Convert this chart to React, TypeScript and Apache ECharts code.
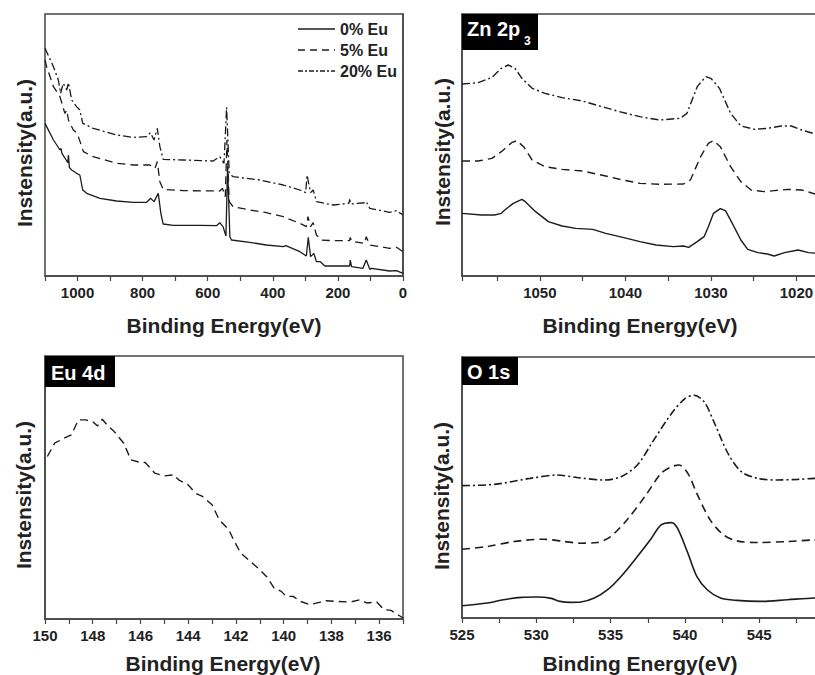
import React, { useEffect, useRef } from "react";
import * as echarts from "echarts";

const FONT = '"Liberation Sans", Arial, Helvetica, sans-serif';
const INK = "#1c1c1c";
const AXIS = "#444";

// Panel labels / texts
const legendNames = ["0% Eu", "5% Eu", "20% Eu"];
const xAxisTitle = "Binding Energy(eV)";
const yAxisTitle = "Instensity(a.u.)";

// ---- Survey spectrum (x: binding energy eV, y: a.u.) ----
const survey0: [number, number][] = [
  [1100, 458], [1074, 408], [1054, 378], [1051, 383], [1048, 368], [1033, 345], [1030, 340], [1028, 363],
  [1025, 325], [1018, 318], [1003, 308], [993, 303], [984, 258], [972, 248], [931, 233], [880, 225],
  [829, 221], [788, 221], [775, 233], [765, 223], [752, 248], [744, 188], [737, 156], [706, 152],
  [624, 152], [573, 151], [563, 160], [553, 148], [544, 120], [539, 328], [532, 118], [527, 108],
  [471, 101], [420, 93], [368, 88], [360, 91], [317, 73], [297, 60], [291, 116], [284, 58],
  [274, 68], [266, 43], [254, 43], [240, 30], [164, 30], [162, 48], [158, 28], [123, 23],
  [113, 48], [102, 20], [97, 23], [41, 15], [20, 16], [0, 8],
];
const survey5: [number, number][] = [
  [1100, 648], [1095, 628], [1074, 568], [1054, 538], [1039, 488], [1033, 498], [1030, 480], [1028, 468],
  [1013, 438], [1001, 428], [987, 388], [982, 373], [952, 358], [880, 338], [829, 333], [778, 333],
  [762, 323], [755, 343], [747, 283], [737, 260], [675, 256], [563, 255], [555, 263], [546, 238],
  [541, 408], [534, 223], [522, 208], [471, 198], [420, 190], [368, 178], [317, 158], [297, 148],
  [292, 178], [284, 148], [276, 160], [266, 123], [251, 108], [215, 106], [164, 106], [162, 116],
  [158, 104], [118, 98], [113, 118], [102, 93], [41, 83], [20, 86], [0, 73],
];
const survey20: [number, number][] = [
  [1100, 683], [1074, 628], [1059, 588], [1052, 548], [1044, 578], [1033, 558], [1028, 580], [1018, 528],
  [1003, 508], [993, 498], [984, 458], [952, 443], [880, 423], [829, 416], [788, 418], [776, 430],
  [765, 408], [755, 443], [747, 388], [737, 350], [675, 348], [583, 345], [563, 358], [550, 338],
  [542, 506], [534, 308], [522, 298], [440, 288], [368, 273], [317, 258], [299, 250], [295, 303],
  [284, 250], [276, 258], [266, 223], [215, 213], [166, 218], [164, 230], [160, 216], [115, 220],
  [113, 223], [102, 203], [41, 191], [20, 196], [0, 183],
];

// ---- Zn 2p3 ----
const zn0: [number, number][] = [
  [1059.1, 188], [1056.8, 183], [1055.3, 183], [1054.5, 188], [1054.1, 198], [1053.1, 218], [1052.1, 230],
  [1051.7, 223], [1050.5, 193], [1049.0, 163], [1047.4, 150], [1045.8, 143], [1043.8, 140], [1042.3, 128],
  [1040.3, 116], [1038.3, 103], [1036.4, 93], [1034.4, 88], [1033.2, 90], [1032.6, 86], [1031.6, 103],
  [1030.8, 118], [1030.3, 148], [1029.7, 188], [1028.9, 202], [1028.3, 196], [1027.5, 158], [1026.5, 108],
  [1025.7, 80], [1024.5, 70], [1023.4, 66], [1022.6, 60], [1021.4, 70], [1019.8, 78], [1018.6, 70],
  [1017.4, 68], [1016, 70],
];
const zn5: [number, number][] = [
  [1059.1, 345], [1057.2, 345], [1055.6, 353], [1054.5, 373], [1053.3, 400], [1052.7, 406], [1051.9, 388],
  [1050.9, 348], [1049.4, 328], [1047.4, 320], [1045.0, 315], [1042.3, 300], [1040.3, 288], [1038.3, 278],
  [1036.0, 275], [1033.2, 276], [1032.4, 288], [1031.2, 358], [1030.3, 398], [1029.7, 406], [1028.9, 388],
  [1027.7, 328], [1026.5, 283], [1025.3, 258], [1023.8, 253], [1022.6, 256], [1021.0, 260], [1019.4, 258],
  [1017.4, 243], [1016, 238],
];
const zn20: [number, number][] = [
  [1059.1, 576], [1057.2, 580], [1055.6, 596], [1054.5, 623], [1053.7, 633], [1052.9, 623], [1052.1, 593],
  [1050.9, 563], [1049.4, 548], [1047.4, 535], [1045.0, 525], [1043.0, 510], [1040.7, 493], [1038.3, 478],
  [1036.0, 468], [1033.6, 473], [1032.8, 488], [1031.6, 568], [1030.6, 598], [1030.0, 593], [1029.0, 563],
  [1027.7, 488], [1026.5, 450], [1024.9, 440], [1023.4, 443], [1021.8, 450], [1020.6, 450], [1019.4, 438],
  [1017.4, 423], [1016, 420],
];

// ---- Eu 4d (5% Eu only) ----
const eu5: [number, number][] = [
  [149.9, 488], [149.6, 528], [149.2, 543], [148.9, 553], [148.6, 598], [148.3, 598], [148.0, 593],
  [147.8, 580], [147.6, 600], [147.4, 583], [147.1, 563], [146.7, 528], [146.4, 478], [146.0, 470],
  [145.8, 470], [145.4, 438], [145.0, 430], [144.6, 433], [144.4, 418], [144.0, 403], [143.7, 378],
  [143.4, 368], [143.0, 343], [142.7, 298], [142.3, 268], [142.1, 238], [141.8, 198], [141.4, 173],
  [141.0, 148], [140.7, 126], [140.4, 93], [140.1, 83], [139.9, 68], [139.6, 68], [139.3, 53],
  [138.9, 43], [138.5, 50], [138.2, 55], [137.8, 53], [137.2, 51], [136.8, 58], [136.5, 48],
  [136.1, 51], [135.8, 28], [135.5, 26], [135.0, 3],
];

// ---- O 1s ----
const o0: [number, number][] = [
  [525.0, 37], [526.7, 45], [527.8, 55], [529.0, 62], [530.1, 63], [531.0, 59], [531.6, 50], [532.3, 47],
  [533.0, 48], [533.9, 60], [534.8, 85], [535.7, 125], [536.8, 185], [537.7, 237], [538.4, 280],
  [539.1, 287], [539.5, 270], [540.2, 195], [540.8, 125], [541.5, 85], [542.4, 60], [543.5, 53],
  [545.1, 50], [546.9, 55], [548.7, 60], [550, 62],
];
const o5: [number, number][] = [
  [525.0, 207], [526.7, 215], [528.5, 230], [530.5, 237], [531.9, 230], [533.0, 225], [534.1, 227],
  [535.0, 245], [536.1, 295], [537.3, 365], [538.4, 435], [539.1, 455], [539.6, 460], [540.2, 435],
  [540.8, 375], [541.7, 295], [542.6, 250], [543.5, 232], [544.9, 227], [546.9, 230], [548.7, 235],
  [550, 236],
];
const o20: [number, number][] = [
  [525.0, 398], [527.2, 402], [529.6, 420], [531.4, 430], [532.8, 422], [534.6, 415], [535.7, 425],
  [536.8, 460], [537.9, 535], [539.1, 615], [540.0, 660], [540.6, 670], [541.3, 650], [542.0, 585],
  [542.9, 495], [543.8, 440], [544.9, 420], [546.2, 415], [547.6, 417], [548.7, 420], [550, 421],
];

const DASH = [8, 5];
const DASHDOT = [8, 3, 2, 3];

function App() {
  const ref = useRef<HTMLDivElement>(null);

  useEffect(() => {
    if (!ref.current) return;
    const chart = echarts.init(ref.current, null, { renderer: "svg" });

    // labels shown every `step`, hidden beyond `visibleLimit` (outside the cropped figure)
    const fmt = (step: number, hide: (v: number) => boolean) => (v: number) => {
      if (hide(v)) return "";
      const r = v / step;
      return Math.abs(r - Math.round(r)) < 1e-6 ? String(Math.round(v * 10) / 10) : "";
    };

    const xBase = (
      idx: number,
      min: number,
      max: number,
      interval: number,
      labelStep: number,
      inverse: boolean,
      hide: (v: number) => boolean = () => false
    ) => ({
      type: "value",
      gridIndex: idx,
      min,
      max,
      interval,
      inverse,
      axisLine: { show: true, lineStyle: { color: AXIS, width: 1.5 } },
      axisTick: { show: true, inside: false, length: 5, lineStyle: { color: AXIS, width: 1.2 } },
      axisLabel: {
        formatter: fmt(labelStep, hide),
        fontSize: 15,
        fontWeight: "bold",
        color: "#222",
        fontFamily: FONT,
        margin: 9,
        showMinLabel: true,
        showMaxLabel: true,
      },
      splitLine: { show: false },
    });

    const yBase = (idx: number, max: number) => ({
      type: "value",
      gridIndex: idx,
      min: 0,
      max,
      axisLine: { show: true, lineStyle: { color: AXIS, width: 1.5 } },
      axisTick: { show: false },
      axisLabel: { show: false },
      splitLine: { show: false },
    });

    const line = (name: string, data: [number, number][], idx: number, type: any, width = 1.4, smooth: any = false) => ({
      type: "line",
      name,
      xAxisIndex: idx,
      yAxisIndex: idx,
      data,
      showSymbol: false,
      symbol: "none",
      smooth,
      clip: true,
      lineStyle: { color: INK, width, type },
      emphasis: { disabled: true },
    });

    const gridStyle = { show: true, borderColor: AXIS, borderWidth: 1.5, backgroundColor: "transparent" };

    const axisName = (x: number, y: number) => ({
      type: "text",
      x,
      y,
      style: {
        text: xAxisTitle,
        fontSize: 21,
        fontWeight: "bold",
        fontFamily: FONT,
        fill: "#222",
        align: "center",
        verticalAlign: "middle",
      },
    });
    const yName = (x: number, y: number) => ({
      type: "text",
      x,
      y,
      rotation: Math.PI / 2,
      style: {
        text: yAxisTitle,
        fontSize: 21,
        fontWeight: "bold",
        fontFamily: FONT,
        fill: "#222",
        align: "center",
        verticalAlign: "middle",
      },
    });
    const tag = (x: number, y: number, w: number, h: number) => ({
      type: "rect",
      shape: { x, y, width: w, height: h },
      style: { fill: "#000" },
      z: 10,
    });
    const tagText = (x: number, y: number, text: string, size = 20) => ({
      type: "text",
      x,
      y,
      z: 11,
      style: {
        text,
        fontSize: size,
        fontWeight: "bold",
        fontFamily: FONT,
        fill: "#fff",
        align: "left",
        verticalAlign: "middle",
      },
    });
    const legendRow = (y: number, dash: any, text: string) => [
      {
        type: "line",
        shape: { x1: 298, y1: y, x2: 335, y2: y },
        style: { stroke: INK, lineWidth: 1.4, lineDash: dash },
        z: 10,
      },
      {
        type: "text",
        x: 340,
        y,
        z: 10,
        style: {
          text,
          fontSize: 16,
          fontWeight: "bold",
          fontFamily: FONT,
          fill: "#222",
          align: "left",
          verticalAlign: "middle",
        },
      },
    ];

    chart.setOption({
      animation: false,
      backgroundColor: "#fff",
      grid: [
        { left: 45, top: 14, width: 358, height: 262, ...gridStyle },
        { left: 462, top: 14, width: 420, height: 262, ...gridStyle },
        { left: 45, top: 356, width: 358, height: 263, ...gridStyle },
        { left: 462, top: 357, width: 371.5, height: 261, ...gridStyle },
      ],
      xAxis: [
        xBase(0, 0, 1100, 100, 200, true),
        xBase(1, 1010, 1059.1, 5, 10, true, (v) => v < 1015),
        xBase(2, 135, 150, 1, 2, true),
        xBase(3, 525, 550, 2.5, 5, false, (v) => v > 548),
      ],
      yAxis: [yBase(0, 786), yBase(1, 786), yBase(2, 790), yBase(3, 785)],
      series: [
        line(legendNames[0], survey0, 0, "solid", 1.3),
        line(legendNames[1], survey5, 0, DASH, 1.3),
        line(legendNames[2], survey20, 0, DASHDOT, 1.3),
        line(legendNames[0], zn0, 1, "solid"),
        line(legendNames[1], zn5, 1, DASH),
        line(legendNames[2], zn20, 1, DASHDOT),
        line(legendNames[1], eu5, 2, DASH),
        line(legendNames[0], o0, 3, "solid", 1.6, 0.3),
        line(legendNames[1], o5, 3, DASH, 1.6, 0.3),
        line(legendNames[2], o20, 3, DASHDOT, 1.6, 0.3),
      ],
      graphic: [
        ...legendRow(29, null, legendNames[0]),
        ...legendRow(50, [7, 5], legendNames[1]),
        ...legendRow(71, [5, 2, 2, 2], legendNames[2]),
        tag(462, 14, 76, 36),
        tagText(467, 29, "Zn 2p"),
        tagText(524, 41, "3", 12),
        tag(45, 356, 70, 31),
        tagText(51, 373, "Eu 4d"),
        tag(462, 357, 56, 28),
        tagText(467, 372, "O 1s"),
        axisName(224, 325),
        axisName(640, 325),
        axisName(223, 663),
        axisName(640, 663),
        yName(24, 153),
        yName(442, 152),
        yName(23, 495),
        yName(441, 496),
      ],
    });

    return () => chart.dispose();
  }, []);

  return (
    <div style={{ position: "absolute", left: 0, top: 0, width: 815, height: 675, overflow: "hidden", background: "#fff" }}>
      <div ref={ref} style={{ width: 900, height: 675 }} />
    </div>
  );
}

export default App;
